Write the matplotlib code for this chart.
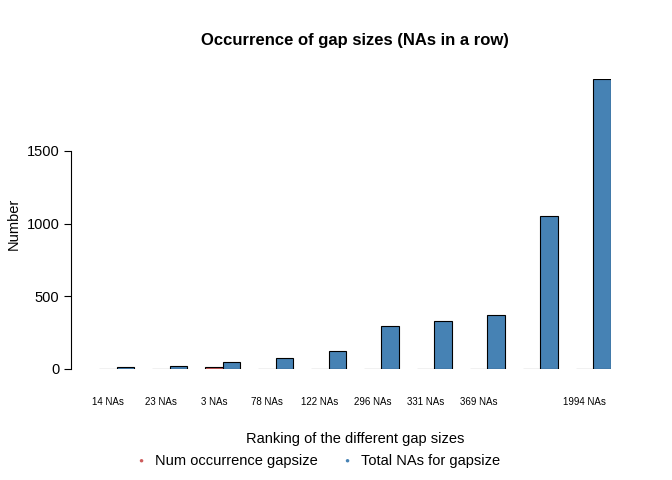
import matplotlib
matplotlib.use("Agg")
import matplotlib.pyplot as plt
import numpy as np

plt.rcParams['font.family'] = ['Liberation Sans', 'DejaVu Sans']

gap_labels = ["14 NAs", "23 NAs", "3 NAs", "78 NAs", "122 NAs", "296 NAs",
              "331 NAs", "369 NAs", "", "1994 NAs"]
num_occurrence = [1, 1, 17, 1, 1, 1, 1, 1, 1, 1]
total_nas = [14, 23, 51, 78, 122, 296, 331, 369, 1055, 1994]

W, H = 672, 480
fig = plt.figure(figsize=(W / 100, H / 100), dpi=100)
# axes placed in pixel coords: x 99..611 (units 1..30), y 369..79 (0..1994)
ax = fig.add_axes([99 / W, (H - 369) / H, (611 - 99) / W, (369 - 79) / H])

red = "#CD5C5C"
blue = "#4682B4"
idx = np.arange(len(gap_labels))
left_red = 1 + 3 * idx
ax.bar(left_red, num_occurrence, width=1, align="edge", color=red,
       edgecolor="black", linewidth=0.8)
ax.bar(left_red + 1, total_nas, width=1, align="edge", color=blue,
       edgecolor="black", linewidth=0.8)

ax.set_xlim(1, 30)
ax.set_ylim(0, 1994)
for s in ["top", "right", "bottom"]:
    ax.spines[s].set_visible(False)
ax.spines["left"].set_position(("outward", 20))
ax.spines["left"].set_bounds(0, 1500)
ax.set_yticks([0, 500, 1000, 1500])
ax.tick_params(axis="y", labelsize=10.5, length=5, labelrotation=0)
ax.set_xticks([])

for i, lab in enumerate(gap_labels):
    ax.text(left_red[i] + 0.5, -230, lab, ha="center", va="center", fontsize=7)

ax.set_ylabel("Number", fontsize=10.5)
fig.text(355 / W, 1 - 40 / H, "Occurrence of gap sizes (NAs in a row)",
         ha="center", va="center", fontsize=12, fontweight="bold")
fig.text(355 / W, 1 - 439 / H, "Ranking of the different gap sizes",
         ha="center", va="center", fontsize=10.5)
fig.text(141 / W, 1 - 461 / H, "\u25CF", color=red, ha="center", va="center", fontsize=6)
fig.text(155 / W, 1 - 461 / H, "Num occurrence gapsize", ha="left", va="center", fontsize=10.5)
fig.text(347 / W, 1 - 461 / H, "\u25CF", color=blue, ha="center", va="center", fontsize=6)
fig.text(361 / W, 1 - 461 / H, "Total NAs for gapsize", ha="left", va="center", fontsize=10.5)

fig.savefig("out.png", dpi=100)
